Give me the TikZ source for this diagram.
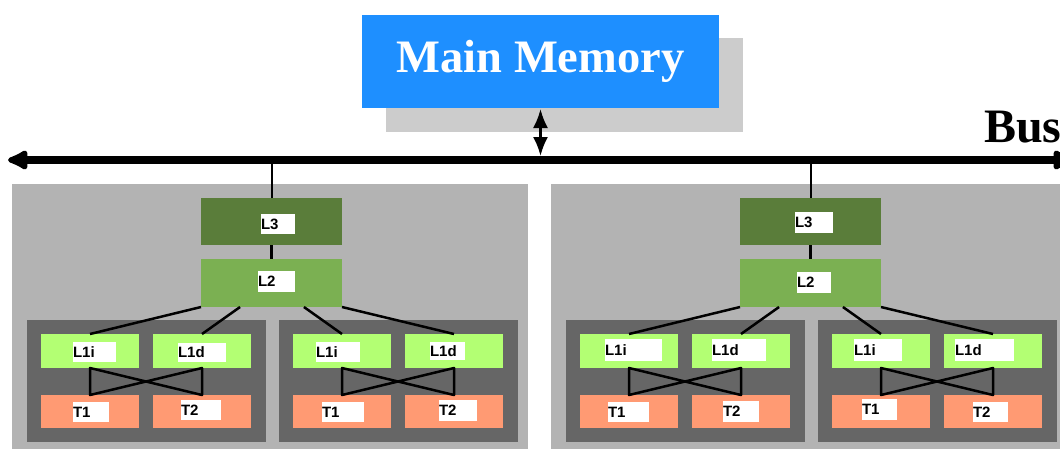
\documentclass[tikz,border=0pt]{standalone}
\usepackage{fontspec}
\setmainfont{Liberation Serif}
\setsansfont{Liberation Sans}
\usetikzlibrary{arrows.meta,calc}
\definecolor{memblue}{HTML}{1E8FFF}
\definecolor{shadowgray}{HTML}{CCCCCC}
\definecolor{panelgray}{HTML}{B3B3B3}
\definecolor{innergray}{HTML}{666666}
\definecolor{lthree}{HTML}{5A7D3A}
\definecolor{ltwo}{HTML}{7BB052}
\definecolor{lone}{HTML}{B3FF73}
\definecolor{thr}{HTML}{FF9A73}
\newcommand{\cachelbl}[6]{%
  \pgfmathsetmacro\lblw{#3-#2}\pgfmathsetmacro\lblh{#5-#4}%
  \node[lblbox, text width=\lblw pt, minimum height=\lblh pt] (#1) at (#2,{(#4+#5)/2}) {#6};}
\begin{document}
\begin{tikzpicture}[x=1pt,y=-1pt,
  rect/.style={anchor=north west, inner sep=0pt, outer sep=0pt, draw=none},
  lblbox/.style={anchor=west, fill=white, inner sep=0pt, outer sep=0pt, align=left,
    font=\sffamily\bfseries\fontsize{15}{15}\selectfont},
  conn/.style={line width=2.5pt, line join=round},
  busline/.style={line width=8pt, {Latex[length=25pt,width=24pt,round]}-{Latex[length=25pt,width=24pt,round]}},
  memarrow/.style={line width=2.5pt, {Latex[length=19pt,width=15pt]}-{Latex[length=19pt,width=15pt]}}]
\clip (0,0) rectangle (1060,448);
\fill[white] (0,0) rectangle (1060,448);
% main memory
\node[rect, fill=shadowgray, minimum width=357pt, minimum height=94pt] (memshadow) at (386,38) {};
\node[rect, fill=memblue, minimum width=357pt, minimum height=93pt, text=white,
  font=\bfseries\fontsize{46.5}{46.5}\selectfont] (mem) at (362,15) {Main Memory};
% bus
\coordinate (busL) at (8,160);
\coordinate (busR) at (1073,160);
\draw[busline] (busL) -- (busR);
\node[anchor=base west, inner sep=0pt, font=\bfseries\fontsize{48}{48}\selectfont] (bustext) at (984,142) {Bus};
\draw[memarrow, shorten <=1pt, shorten >=4pt] (mem.south) -- (mem.south |- busL);
% clusters
\foreach \c/\ox in {a/0,b/539}{
  \node[rect, fill=panelgray, minimum width=516pt, minimum height=270pt] (P\c) at (12+\ox,184) {};
  \node[rect, fill=lthree, minimum width=141pt, minimum height=47pt] (L3\c) at (201+\ox,198) {};
  \node[rect, fill=ltwo, minimum width=141pt, minimum height=48pt] (L2\c) at (201+\ox,259) {};
  \draw[line width=2pt] (L3\c.north) -- (L3\c.north |- busL);
  \draw[conn] (L3\c.south) -- (L2\c.north);
  \foreach \k/\dx in {1/0,2/252}{
    \node[rect, fill=innergray, minimum width=239pt, minimum height=122pt] (I\c\k) at (27+\ox+\dx,320) {};
    \node[rect, fill=lone, minimum width=98pt, minimum height=34pt] (Li\c\k) at (41+\ox+\dx,334) {};
    \node[rect, fill=lone, minimum width=98pt, minimum height=34pt] (Ld\c\k) at (153+\ox+\dx,334) {};
    \node[rect, fill=thr, minimum width=98pt, minimum height=33pt] (Ta\c\k) at (41+\ox+\dx,395) {};
    \node[rect, fill=thr, minimum width=98pt, minimum height=33pt] (Tb\c\k) at (153+\ox+\dx,395) {};
    \draw[conn] (Li\c\k.south) -- (Ta\c\k.north) -- (Ld\c\k.south) -- (Tb\c\k.north) -- cycle;
  }
  \draw[conn] (L2\c.south west) -- (Li\c1.north);
  \draw[conn] ($(L2\c.south west)!0.277!(L2\c.south east)$) -- (Ld\c1.north);
  \draw[conn] ($(L2\c.south west)!0.73!(L2\c.south east)$) -- (Li\c2.north);
  \draw[conn] (L2\c.south east) -- (Ld\c2.north);
}
% labels, left cluster
\cachelbl{labL3a}{261}{295}{214}{234}{L3}
\cachelbl{labL2a}{258}{295}{271}{292}{L2}
\cachelbl{labLia1}{73}{116}{342}{362}{L1i}
\cachelbl{labLda1}{178}{226}{343}{362}{L1d}
\cachelbl{labTaa1}{73}{109}{402}{422}{T1}
\cachelbl{labTba1}{181}{221}{400}{420}{T2}
\cachelbl{labLia2}{316}{360}{342}{362}{L1i}
\cachelbl{labLda2}{430}{465}{342}{360}{L1d}
\cachelbl{labTaa2}{322}{364}{402}{422}{T1}
\cachelbl{labTba2}{439}{477}{400}{421}{T2}
% labels, right cluster
\cachelbl{labL3b}{795}{833}{212}{233}{L3}
\cachelbl{labL2b}{797}{831}{272}{293}{L2}
\cachelbl{labLib1}{605}{662}{339}{361}{L1i}
\cachelbl{labLdb1}{712}{766}{339}{361}{L1d}
\cachelbl{labTab1}{608}{649}{402}{422}{T1}
\cachelbl{labTbb1}{723}{759}{401}{422}{T2}
\cachelbl{labLib2}{854}{902}{339}{361}{L1i}
\cachelbl{labLdb2}{955}{1014}{339}{361}{L1d}
\cachelbl{labTab2}{862}{897}{399}{420}{T1}
\cachelbl{labTbb2}{973}{1008}{402}{422}{T2}
\end{tikzpicture}
\end{document}
